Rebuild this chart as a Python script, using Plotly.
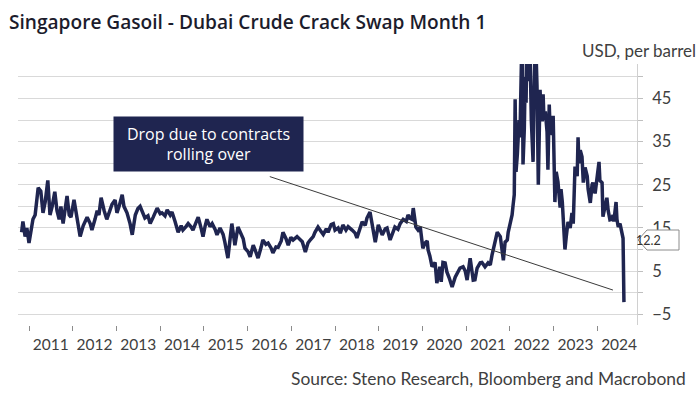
import plotly.graph_objects as go
import pandas as pd

# Decimal-year positions and crack spread values (USD/bbl)
years = [
    2010.83, 2010.86, 2010.91, 2010.95, 2011.00, 2011.05, 2011.09, 2011.14, 2011.21, 2011.27,
    2011.32, 2011.37, 2011.43, 2011.48, 2011.53, 2011.59, 2011.64, 2011.69, 2011.73, 2011.78,
    2011.82, 2011.87, 2011.92, 2011.96, 2012.03, 2012.10, 2012.17, 2012.24, 2012.33, 2012.40,
    2012.44, 2012.51, 2012.56, 2012.60, 2012.65, 2012.72, 2012.78, 2012.85, 2012.90, 2012.97,
    2013.01, 2013.06, 2013.13, 2013.17, 2013.24, 2013.31, 2013.36, 2013.43, 2013.49, 2013.54,
    2013.61, 2013.65, 2013.72, 2013.77, 2013.84, 2013.93, 2014.00, 2014.04, 2014.11, 2014.16,
    2014.23, 2014.27, 2014.34, 2014.41, 2014.48, 2014.52, 2014.59, 2014.64, 2014.71, 2014.75,
    2014.82, 2014.87, 2014.94, 2014.98, 2015.03, 2015.07, 2015.14, 2015.19, 2015.26, 2015.30,
    2015.37, 2015.44, 2015.48, 2015.55, 2015.60, 2015.64, 2015.69, 2015.71, 2015.78, 2015.85,
    2015.90, 2015.94, 2016.01, 2016.06, 2016.13, 2016.17, 2016.24, 2016.31, 2016.35, 2016.42,
    2016.47, 2016.54, 2016.58, 2016.65, 2016.70, 2016.77, 2016.81, 2016.88, 2016.93, 2016.99,
    2017.04, 2017.13, 2017.20, 2017.25, 2017.32, 2017.38, 2017.43, 2017.50, 2017.54, 2017.61,
    2017.68, 2017.73, 2017.80, 2017.84, 2017.91, 2017.96, 2018.00, 2018.07, 2018.12, 2018.18,
    2018.25, 2018.30, 2018.39, 2018.46, 2018.50, 2018.57, 2018.62, 2018.69, 2018.73, 2018.80,
    2018.87, 2018.92, 2018.99, 2019.03, 2019.08, 2019.15, 2019.19, 2019.26, 2019.33, 2019.37,
    2019.44, 2019.49, 2019.56, 2019.63, 2019.67, 2019.72, 2019.76, 2019.79, 2019.85, 2019.90,
    2019.95, 2019.99, 2020.01, 2020.06, 2020.11, 2020.13, 2020.17, 2020.22, 2020.29, 2020.33,
    2020.38, 2020.40, 2020.43, 2020.47, 2020.52, 2020.56, 2020.61, 2020.68, 2020.75, 2020.82,
    2020.86, 2020.93, 2020.98, 2021.02, 2021.09, 2021.16, 2021.20, 2021.25, 2021.32, 2021.36,
    2021.43, 2021.50, 2021.55, 2021.59, 2021.62, 2021.66, 2021.71, 2021.78, 2021.82, 2021.85,
    2021.89, 2021.94, 2021.96, 2022.01, 2022.05, 2022.07, 2022.10, 2022.12, 2022.14, 2022.17,
    2022.21, 2022.23, 2022.26, 2022.28, 2022.30, 2022.33, 2022.35, 2022.37, 2022.39, 2022.42,
    2022.44, 2022.46, 2022.49, 2022.51, 2022.53, 2022.55, 2022.58, 2022.60, 2022.62, 2022.65,
    2022.67, 2022.69, 2022.71, 2022.74, 2022.76, 2022.78, 2022.81, 2022.85, 2022.87, 2022.90,
    2022.92, 2022.97, 2022.99, 2023.01, 2023.03, 2023.06, 2023.10, 2023.15, 2023.17, 2023.20,
    2023.22, 2023.26, 2023.29, 2023.33, 2023.38, 2023.42, 2023.45, 2023.49, 2023.54, 2023.56,
    2023.58, 2023.61, 2023.65, 2023.68, 2023.72, 2023.77, 2023.79, 2023.84, 2023.88, 2023.90,
    2023.95, 2024.00, 2024.04, 2024.06, 2024.11, 2024.13, 2024.18, 2024.22, 2024.25, 2024.29,
    2024.33, 2024.36, 2024.38, 2024.43, 2024.45, 2024.48, 2024.52, 2024.55, 2024.57, 2024.59,
    2024.61,
]
values = [
    14.0, 16.5, 13.0, 15.0, 11.5, 14.0, 17.0, 18.0, 24.3, 23.5,
    18.5, 21.0, 26.0, 18.0, 20.0, 23.4, 19.0, 17.0, 20.0, 16.0,
    19.5, 22.4, 18.0, 17.5, 21.5, 17.0, 13.0, 15.5, 17.5, 16.0,
    14.5, 17.0, 19.0, 18.0, 22.0, 19.0, 17.0, 19.0, 20.5, 21.5,
    18.5, 20.0, 22.7, 20.0, 18.5, 16.0, 13.4, 18.0, 19.5, 20.0,
    18.0, 17.3, 17.8, 16.0, 17.5, 19.6, 18.3, 18.5, 17.8, 19.2,
    18.0, 18.7, 16.5, 14.0, 15.5, 14.5, 15.3, 16.0, 15.2, 14.5,
    16.3, 17.5, 14.8, 13.0, 15.5, 17.0, 15.3, 16.0, 14.6, 13.4,
    15.0, 13.5, 11.7, 8.0, 12.5, 16.0, 12.5, 11.0, 15.2, 13.5,
    12.5, 10.3, 9.5, 8.3, 11.0, 10.0, 8.0, 10.5, 12.2, 11.2,
    11.5, 10.3, 9.2, 10.6, 10.5, 12.0, 14.0, 12.5, 11.0, 12.8,
    12.2, 13.0, 12.2, 11.8, 9.4, 11.5, 12.2, 13.0, 14.0, 15.2,
    14.2, 13.5, 14.8, 14.0, 15.8, 16.0, 14.5, 15.0, 13.8, 15.7,
    14.5, 15.3, 14.5, 13.8, 12.7, 15.0, 16.4, 15.6, 17.3, 18.7,
    15.2, 11.7, 15.7, 14.5, 13.4, 14.8, 15.0, 12.2, 14.5, 15.2,
    14.7, 16.0, 17.0, 16.5, 18.0, 17.2, 17.0, 19.6, 15.2, 14.5,
    15.2, 12.2, 10.3, 11.5, 12.0, 9.9, 8.5, 6.0, 7.0, 2.2,
    5.0, 6.0, 2.5, 7.0, 6.9, 4.8, 3.5, 1.3, 3.6, 5.2,
    5.7, 6.0, 5.0, 2.9, 8.0, 2.9, 3.0, 5.7, 6.9, 7.0,
    6.0, 6.9, 6.4, 8.7, 10.0, 11.5, 14.0, 13.0, 9.4, 7.5,
    11.7, 12.2, 14.0, 16.0, 18.0, 20.0, 22.7, 44.8, 28.0, 32.0,
    40.0, 36.0, 58.0, 62.0, 29.7, 38.0, 50.0, 44.0, 60.0, 49.0,
    58.0, 56.0, 40.0, 36.0, 30.3, 45.0, 60.0, 55.0, 48.0, 25.0,
    35.0, 47.0, 42.0, 39.7, 46.0, 40.0, 42.0, 37.3, 28.5, 43.6,
    38.0, 36.6, 41.0, 30.0, 21.0, 28.0, 25.7, 19.7, 24.0, 21.0,
    17.0, 10.0, 13.0, 16.4, 15.0, 18.5, 16.0, 29.2, 27.0, 36.0,
    30.0, 33.0, 31.5, 25.5, 29.0, 27.0, 24.0, 20.8, 25.0, 25.5,
    23.0, 27.8, 30.3, 26.0, 25.5, 17.6, 20.0, 22.0, 19.0, 16.9,
    17.0, 18.0, 16.5, 21.0, 17.0, 15.2, 16.0, 14.5, 14.0, 12.6,
    -2.2,
]

last_label = "12.2"
last_label_value = 12.2

title_text = "Singapore Gasoil - Dubai Crude Crack Swap Month 1"
unit_text = "USD, per barrel"
source_text = "Source: Steno Research, Bloomberg and Macrobond"
note_text = "Drop due to contracts<br>rolling over"
note_pos = ("2015-02-05", 34.5)
trend_start = ("2016-07-05", 26.9)
trend_end = ("2024-05-11", 0.6)

x_range = ["2010-10-01", "2024-11-28"]
y_range = [-7.5, 53]

NAVY = "#1f2550"
GRID = "#d9d9d9"
TXT = "#404040"
LIGHT_FONT = "Lato"


def to_date(y):
    yr = int(y)
    return pd.Timestamp(yr, 1, 1) + pd.Timedelta(days=(y - yr) * 365.25)


dates = [to_date(y) for y in years]

fig = go.Figure()
fig.add_trace(go.Scatter(
    x=dates, y=values, mode="lines",
    line=dict(color=NAVY, width=3.5),
    hoverinfo="skip", showlegend=False,
))

fig.update_layout(
    width=700, height=400,
    margin=dict(l=18, r=63, t=64, b=75),
    paper_bgcolor="white", plot_bgcolor="white",
    font=dict(family=LIGHT_FONT, color=TXT),
    showlegend=False,
    xaxis=dict(
        type="date", range=x_range, automargin=False,
        tick0="2011-01-01", dtick="M12", tickformat="%Y",
        ticklabelmode="period",
        ticks="outside", ticklen=5, tickcolor="#8c8c8c",
        showgrid=False, showline=False, zeroline=False,
        tickfont=dict(family=LIGHT_FONT, size=15.5, color=TXT),
    ),
    yaxis=dict(
        side="right", range=y_range, automargin=False,
        tick0=-5, dtick=10,
        ticks="outside", ticklen=5, tickcolor="#bfbfbf",
        showgrid=True, gridcolor=GRID, gridwidth=1,
        showline=True, linecolor="#d0d0d0", linewidth=1,
        zeroline=False,
        ticklabelstandoff=6,
        tickfont=dict(family=LIGHT_FONT, size=16.5, color=TXT),
        minor=dict(dtick=5, tick0=0, showgrid=True, gridcolor=GRID,
                   ticks="outside", ticklen=5, tickcolor="#bfbfbf"),
    ),
)

# Title, unit, source
fig.add_annotation(text=title_text, xref="paper", yref="paper",
                   x=-0.018, y=1.0, yshift=42, xanchor="left", yanchor="middle",
                   showarrow=False,
                   font=dict(family="Open Sans", size=19.1, color="#1c1c2c", weight=600))
fig.add_annotation(text=unit_text, xref="paper", yref="paper",
                   x=1, xshift=61, y=1.0, yshift=14, xanchor="right", yanchor="middle",
                   showarrow=False, font=dict(family=LIGHT_FONT, size=17, color=TXT))
fig.add_annotation(text=source_text, xref="paper", yref="paper",
                   x=1, xshift=51, y=0, yshift=-53, xanchor="right", yanchor="middle",
                   showarrow=False, font=dict(family=LIGHT_FONT, size=17.4, color=TXT))

# Note box
fig.add_annotation(text=note_text, x=note_pos[0], y=note_pos[1],
                   xref="x", yref="y", showarrow=False,
                   bgcolor=NAVY, width=187, height=52,
                   font=dict(family="Open Sans", size=16, color="white"), align="center")

# Trend line
fig.add_shape(type="line", xref="x", yref="y",
              x0=trend_start[0], y0=trend_start[1],
              x1=trend_end[0], y1=trend_end[1],
              line=dict(color="#3a3a3a", width=1))

# Last value callout
fig.add_shape(type="path", xref="paper", yref="y",
              xsizemode="pixel", ysizemode="pixel",
              xanchor=1, yanchor=last_label_value,
              path="M 1 0 L 10 10 L 42 10 L 42 -10 L 10 -10 Z",
              fillcolor="white", line=dict(color="#8c8c8c", width=1),
              layer="above")
fig.add_annotation(text=last_label, xref="paper", yref="y",
                   x=1, xshift=26, y=last_label_value, showarrow=False,
                   font=dict(family=LIGHT_FONT, size=12.5, color="#333333"))

fig.write_html("out.html",
               config={"displayModeBar": False},
               post_script="document.body.style.margin='0';document.body.style.overflow='hidden';")
